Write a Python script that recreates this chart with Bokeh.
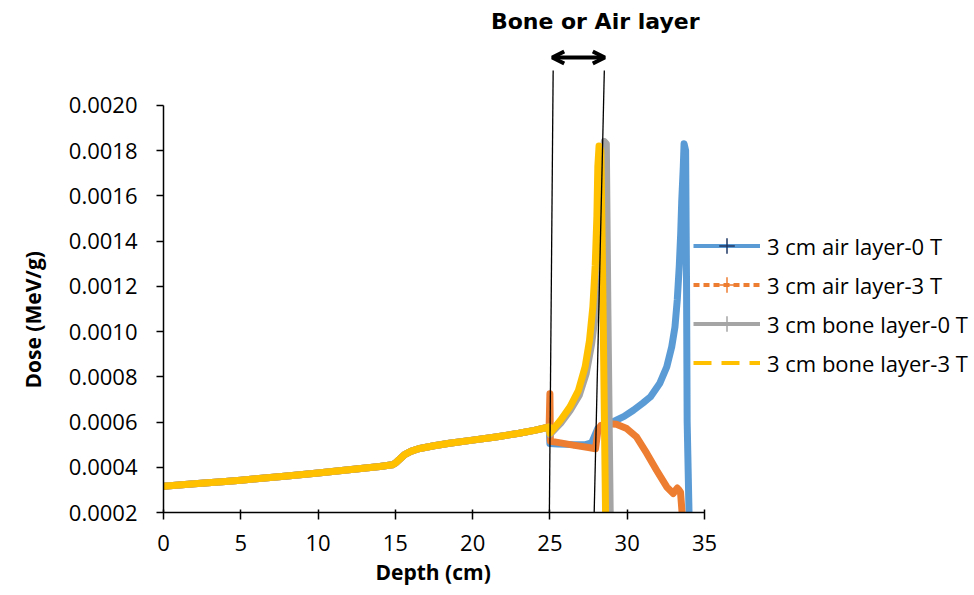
import numpy as np
from bokeh.plotting import figure
from bokeh.models import (FixedTicker, NumeralTickFormatter, Legend, LegendItem,
                          Label, Arrow, OpenHead, Range1d, Title)
from bokeh.embed import file_html
from bokeh.resources import INLINE

# ---------------- data ----------------
# part of the depth-dose curve before the layer, shared by all four series
common_depth = [0, 2, 4, 5, 6, 8, 10, 12, 14, 14.8, 15.0, 15.3, 15.6, 16.0, 16.5,
                17.5, 18.5, 20, 21.5, 23, 24, 24.95]
common_dose = [0.000316, 0.000327, 0.000337, 0.000343, 0.000349, 0.000361, 0.000375,
               0.000389, 0.000403, 0.000411, 0.000418, 0.000437, 0.000456, 0.000470,
               0.000482, 0.000495, 0.000506, 0.000520, 0.000534, 0.000550, 0.000563,
               0.000578]

air0_depth = [25.0, 25.5, 26.5, 27.3, 27.7, 27.9, 28.1, 28.6, 29.1, 29.8, 30.4, 31.0,
              31.5, 32.1, 32.56, 32.88, 33.09, 33.24, 33.37, 33.46, 33.53, 33.63, 33.68,
              33.78, 33.84, 33.88, 34.0]
air0_dose = [0.000505, 0.000503, 0.000500, 0.000500, 0.000508, 0.000540, 0.000572,
             0.000588, 0.000602, 0.000625, 0.000652, 0.000683, 0.000711, 0.000770,
             0.000844, 0.000932, 0.00102, 0.00114, 0.00129, 0.00143, 0.00158, 0.00173,
             0.00183, 0.00180, 0.00120, 0.00060, 0.00020]

air3_depth = [25.0, 25.03, 25.5, 26.5, 27.5, 27.95, 28.1, 28.3, 28.8, 29.3, 29.97, 30.6,
              31.27, 31.9, 32.56, 32.98, 33.15, 33.24, 33.35, 33.45, 33.55]
air3_dose = [0.000725, 0.000515, 0.000510, 0.000498, 0.000487, 0.000482, 0.000560,
             0.000585, 0.000592, 0.000590, 0.000571, 0.000534, 0.000461, 0.000387,
             0.000313, 0.000284, 0.000300, 0.000308, 0.000300, 0.000290, 0.000200]

bone0_depth = [25.0, 25.7, 26.3, 26.9, 27.35, 27.7, 27.98, 28.2, 28.33, 28.43, 28.52,
               28.65, 28.75, 28.9]
bone0_dose = [0.000545, 0.000595, 0.000650, 0.000718, 0.000815, 0.000945, 0.00110,
              0.00130, 0.00152, 0.00172, 0.00184, 0.00183, 0.00110, 0.00020]

bone3_depth = [25.0, 25.69, 26.3, 26.85, 27.28, 27.56, 27.78, 27.93, 28.04, 28.1, 28.18,
               28.3, 28.42, 28.6]
bone3_dose = [0.000550, 0.000608, 0.000667, 0.000740, 0.000844, 0.000960, 0.00111,
              0.00129, 0.00151, 0.00173, 0.00182, 0.00180, 0.00120, 0.00020]

series_labels = ["3 cm air layer-0 T", "3 cm air layer-3 T",
                 "3 cm bone layer-0 T", "3 cm bone layer-3 T"]
series_colors = ["#5B9BD5", "#ED7D31", "#A5A5A5", "#FFC000"]

x_ticks = [0, 5, 10, 15, 20, 25, 30, 35]
y_ticks = [0.0002, 0.0004, 0.0006, 0.0008, 0.0010, 0.0012, 0.0014, 0.0016, 0.0018, 0.0020]

# ---------------- figure ----------------
FONT = "Open Sans"
p = figure(width=974, height=595, output_backend="svg", toolbar_location=None,
           x_range=Range1d(0, 52.47), y_range=Range1d(0.0002, 0.0024188),
           min_border_left=163, min_border_right=0, min_border_top=10,
           min_border_bottom=83)
p.outline_line_color = None
p.grid.visible = False
p.background_fill_color = "white"

tails = [(air0_depth, air0_dose), (air3_depth, air3_dose),
         (bone0_depth, bone0_dose), (bone3_depth, bone3_dose)]
for (d, v), c in zip(tails, series_colors):
    p.line(common_depth + d, common_dose + v, line_color=c, line_width=7,
           line_join="round", line_cap="round")

# axes
for ax in (p.xaxis[0], p.yaxis[0]):
    ax.axis_line_color = "black"
    ax.axis_line_width = 1.5
    ax.major_tick_line_color = "black"
    ax.major_tick_line_width = 1.5
    ax.minor_tick_line_color = None
    ax.major_label_text_font = FONT
    ax.major_label_text_font_size = "22px"
    ax.major_label_text_color = "black"
    ax.major_tick_out = 7

p.xaxis.ticker = FixedTicker(ticks=x_ticks)
p.xaxis.major_tick_in = 3
p.xaxis.major_label_standoff = 15
p.xaxis.bounds = (0, 35)

p.yaxis.ticker = FixedTicker(ticks=y_ticks)
p.yaxis.formatter = NumeralTickFormatter(format="0.0000")
p.yaxis.major_tick_in = 0
p.yaxis.major_label_standoff = 19
p.yaxis.bounds = (0.0002, 0.0020)

# axis titles (titles in the side panels so they can sit off-centre like the original)
p.add_layout(Title(text="Depth (cm)", align="left", offset=212, standoff=9,
                   vertical_align="top", text_font=FONT, text_font_style="bold",
                   text_font_size="21px", text_color="black"), "below")
p.add_layout(Title(text="Dose (MeV/g)", align="left", offset=124, standoff=33,
                   vertical_align="top", text_font=FONT, text_font_style="bold",
                   text_font_size="21px", text_color="black"), "left")

# layer annotation
p.add_layout(Label(x=27.93, y=0.0023702, text="Bone or Air layer",
                   text_font="DejaVu Sans", text_font_style="bold",
                   text_font_size="22px", text_align="center", text_baseline="middle",
                   text_color="black"))
p.add_layout(Arrow(start=OpenHead(size=12, line_width=4, line_color="black"),
                   end=OpenHead(size=12, line_width=4, line_color="black"),
                   x_start=25.15, y_start=0.002211, x_end=28.55, y_end=0.002211,
                   line_width=4, line_color="black"))
p.add_layout(Arrow(end=None, x_start=25.21, y_start=0.002154, x_end=24.96,
                   y_end=0.0001558, line_width=1.3, line_color="black"))
p.add_layout(Arrow(end=None, x_start=28.52, y_start=0.002154, x_end=27.85,
                   y_end=0.0001558, line_width=1.3, line_color="black"))

# legend with its own sample glyphs
dashes = ["solid", "6 4", "solid", "18 10"]
mark_colors = ["#1F3864", "#ED7D31", "#A5A5A5", None]
items = []
for lab, c, dsh, mc in zip(series_labels, series_colors, dashes, mark_colors):
    rs = [p.line([np.nan], [np.nan], line_color=c, line_width=4, line_dash=dsh)]
    if mc is not None:
        rs.append(p.scatter([np.nan], [np.nan], marker="cross", size=4,
                            line_color=mc, line_width=1.5))
    items.append(LegendItem(label=lab, renderers=rs))

legend = Legend(items=items, location=(530, 130), padding=0, margin=0, spacing=0,
                glyph_width=67, glyph_height=39, label_height=39, label_standoff=7,
                label_text_font=FONT, label_text_font_size="22px",
                label_text_color="black", border_line_color=None,
                background_fill_alpha=0)
p.add_layout(legend, "center")

open("out.html", "w").write(file_html(p, INLINE))
